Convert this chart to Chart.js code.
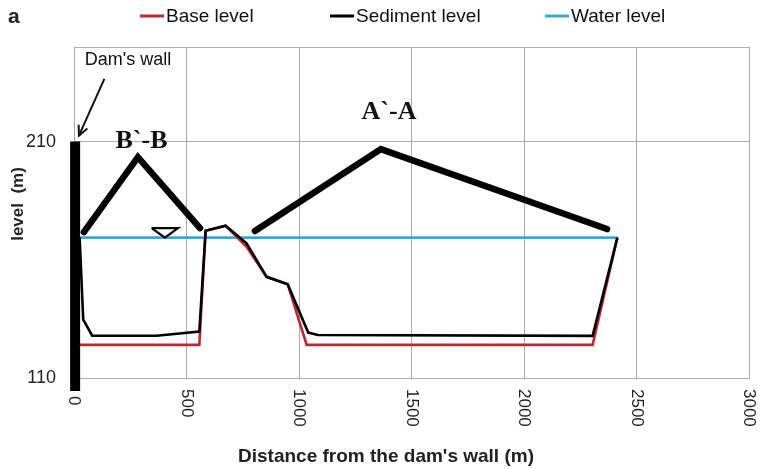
<!DOCTYPE html>
<html>
<head>
<meta charset="utf-8">
<script src="https://cdn.jsdelivr.net/npm/chart.js@4.4.1/dist/chart.umd.min.js"></script>
<style>
  html, body { margin: 0; padding: 0; background: #fff; }
  #wrap { width: 762px; height: 469px; position: relative; }
</style>
</head>
<body>
<div id="wrap"><canvas id="c" width="762" height="469"></canvas></div>
<script>
// ---- Data ----
const baseX = [0, 557, 585, 674, 767, 856, 950, 1034, 2305, 2415];
const baseY = [124, 124, 172.3, 174.4, 165.5, 152.8, 149.6, 124, 124, 169.4];

const sedX = [25, 41, 81, 367, 557, 585, 674, 767, 856, 950, 1041, 1084, 2305, 2415];
const sedY = [169.4, 134.7, 127.9, 127.9, 129.6, 172.3, 174.4, 167, 152.8, 149.6, 129.2, 128.2, 127.8, 169.4];

const waterX = [0, 2415];
const waterY = [169.4, 169.4];

// Decorations (in data units)
const wallX = [5, 5];
const wallY = [210, 104.5];
const roofBX = [44, 284, 560];
const roofBY = [171.7, 203.4, 173.4];
const roofAX = [804, 1364, 2369];
const roofAY = [172.2, 206.8, 173];
const triX = [345, 462, 404, 345];
const triY = [173.4, 173.4, 169.4, 173.4];

const xTicks = [0, 500, 1000, 1500, 2000, 2500, 3000];
const yTicks = [110, 210, 250];
const yTickLabels = ['110', '210', ''];

const legendNames = ['Base level', 'Sediment level', 'Water level'];
const legendColors = ['#c0272d', '#000000', '#35a8d8'];

const FONT = "'Liberation Sans', Arial, sans-serif";

const pts = (xs, ys) => xs.map((x, i) => ({ x: x, y: ys[i] }));

const annotationPlugin = {
  id: 'extras',
  afterDraw(chart) {
    const ctx = chart.ctx;
    const xs = chart.scales.x, ys = chart.scales.y;
    const px = v => xs.getPixelForValue(v);
    const py = v => ys.getPixelForValue(v);
    ctx.save();
    // x tick labels rotated clockwise
    ctx.fillStyle = '#222';
    ctx.font = '17px ' + FONT;
    ctx.textAlign = 'left';
    ctx.textBaseline = 'middle';
    xs.ticks.forEach(t => {
      ctx.save();
      ctx.translate(px(t.value), chart.chartArea.bottom + (t.value === 0 ? 18 : 11));
      ctx.rotate(Math.PI / 2);
      ctx.fillText(String(t.value), 0, 0);
      ctx.restore();
    });
    // x title
    ctx.font = 'bold 19px ' + FONT;
    ctx.textAlign = 'center';
    ctx.fillText("Distance from the dam's wall (m)", 386, 457);
    // y title
    ctx.save();
    ctx.translate(18, 204);
    ctx.rotate(-Math.PI / 2);
    ctx.font = 'bold 17px ' + FONT;
    ctx.fillText('level  (m)', 0, 0);
    ctx.restore();
    // panel letter
    ctx.font = 'bold 21px ' + FONT;
    ctx.textAlign = 'left';
    ctx.fillText('a', 8, 17);
    // legend
    const lx = [140, 330, 545];
    ctx.font = '19px ' + FONT;
    legendNames.forEach((n, i) => {
      ctx.strokeStyle = legendColors[i];
      ctx.lineWidth = 3;
      ctx.beginPath();
      ctx.moveTo(lx[i], 16);
      ctx.lineTo(lx[i] + 24, 16);
      ctx.stroke();
      ctx.fillStyle = '#111';
      ctx.textAlign = 'left';
      ctx.fillText(n, lx[i] + 26, 17);
    });
    // Dam's wall label + arrow
    ctx.fillStyle = '#111';
    ctx.font = '18px ' + FONT;
    ctx.textAlign = 'center';
    ctx.fillText("Dam's wall", px(240), py(244.5));
    const ax0 = px(135), ay0 = py(236.5), ax1 = px(22), ay1 = py(212.5);
    ctx.strokeStyle = '#111';
    ctx.lineWidth = 2;
    ctx.beginPath();
    ctx.moveTo(ax0, ay0);
    ctx.lineTo(ax1, ay1);
    ctx.stroke();
    const ang = Math.atan2(ay1 - ay0, ax1 - ax0);
    ctx.beginPath();
    ctx.moveTo(ax1 - 11 * Math.cos(ang - 0.45), ay1 - 11 * Math.sin(ang - 0.45));
    ctx.lineTo(ax1, ay1);
    ctx.lineTo(ax1 - 11 * Math.cos(ang + 0.45), ay1 - 11 * Math.sin(ang + 0.45));
    ctx.stroke();
    // Section labels
    ctx.font = "bold 26px 'Liberation Serif', 'Times New Roman', serif";
    ctx.fillText('B`-B', px(300), py(210.3));
    ctx.fillText('A`-A', px(1400), py(222.3));
    ctx.restore();
  }
};

new Chart(document.getElementById('c'), {
  type: 'scatter',
  data: {
    datasets: [
      { label: 'wall', data: pts(wallX, wallY), showLine: true, borderColor: '#000', borderWidth: 10, pointRadius: 0, clip: false, order: 0, borderCapStyle: 'butt' },
      { label: 'roofB', data: pts(roofBX, roofBY), showLine: true, borderColor: '#000', borderWidth: 6.5, pointRadius: 0, order: 1, borderCapStyle: 'round', borderJoinStyle: 'miter' },
      { label: 'roofA', data: pts(roofAX, roofAY), showLine: true, borderColor: '#000', borderWidth: 6.5, pointRadius: 0, order: 1, borderCapStyle: 'round', borderJoinStyle: 'miter' },
      { label: 'tri', data: pts(triX, triY), showLine: true, borderColor: '#000', borderWidth: 2.2, pointRadius: 0, order: 2, fill: false },
      { label: legendNames[1], data: pts(sedX, sedY), showLine: true, borderColor: legendColors[1], borderWidth: 2.6, pointRadius: 0, order: 3 },
      { label: legendNames[0], data: pts(baseX, baseY), showLine: true, borderColor: legendColors[0], borderWidth: 2.6, pointRadius: 0, order: 4 },
      { label: legendNames[2], data: pts(waterX, waterY), showLine: true, borderColor: legendColors[2], borderWidth: 2.8, pointRadius: 0, order: 5 }
    ]
  },
  options: {
    responsive: false,
    animation: false,
    events: [],
    layout: { padding: { left: 0, right: 13, top: 47, bottom: 0 } },
    plugins: { legend: { display: false }, tooltip: { enabled: false } },
    scales: {
      x: {
        type: 'linear', min: 0, max: 3000,
        afterBuildTicks: s => { s.ticks = xTicks.map(v => ({ value: v })); },
        afterFit: s => { s.height = 91; },
        ticks: { display: false },
        grid: { color: '#ababab', lineWidth: 1, drawTicks: false },
        border: { color: '#ababab' }
      },
      y: {
        type: 'linear', min: 110, max: 250,
        afterBuildTicks: s => { s.ticks = yTicks.map(v => ({ value: v })); },
        afterFit: s => { s.width = 74; },
        ticks: {
          padding: 18,
          color: '#222',
          font: { family: FONT, size: 18 },
          callback: v => yTickLabels[yTicks.indexOf(v)]
        },
        grid: { color: '#ababab', lineWidth: 1, drawTicks: false },
        border: { color: '#ababab' }
      }
    }
  },
  plugins: [annotationPlugin]
});
</script>
</body>
</html>
